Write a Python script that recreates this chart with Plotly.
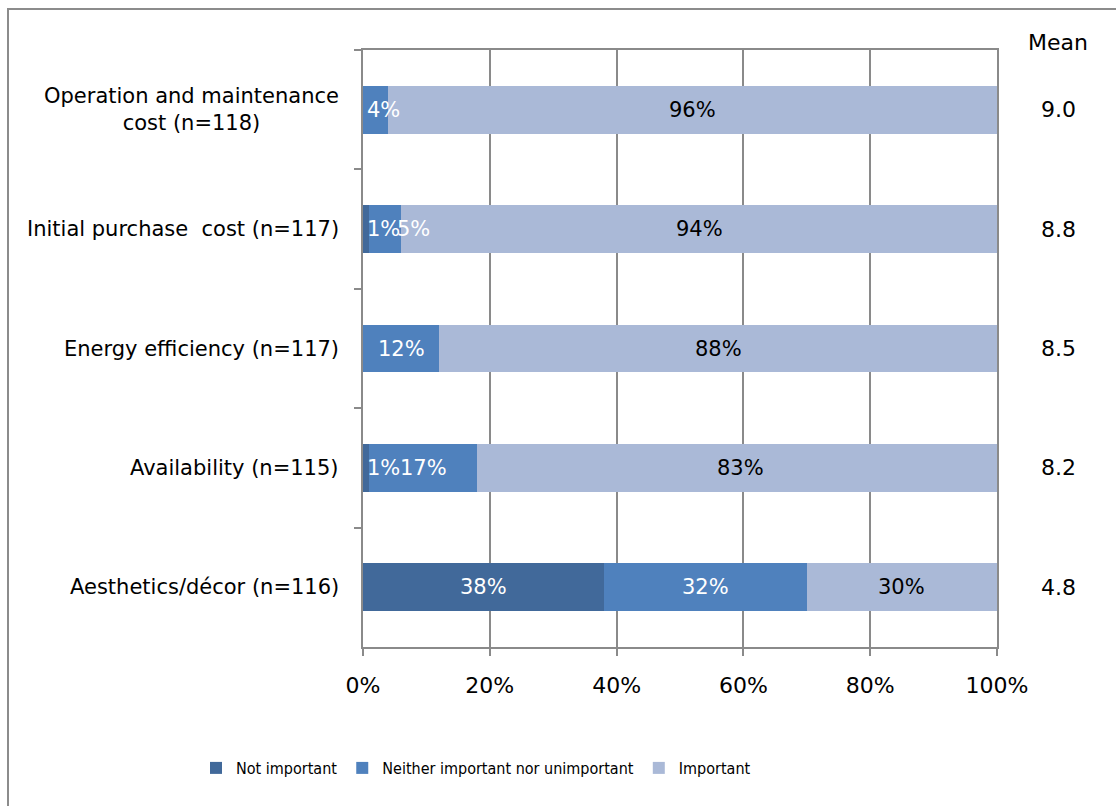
import plotly.graph_objects as go

categories = ["Operation and maintenance<br>cost (n=118)", "Initial purchase  cost (n=117)",
              "Energy efficiency (n=117)", "Availability (n=115)", "Aesthetics/décor (n=116)"]
not_important = [0, 1, 0, 1, 38]
neither = [4, 5, 12, 17, 32]
important = [96, 94, 88, 83, 30]
means = ["9.0", "8.8", "8.5", "8.2", "4.8"]
series_names = ["Not important", "Neither important nor unimportant", "Important"]
colors = ["#41699A", "#4F81BD", "#AAB9D7"]
label_colors = ["white", "white", "black"]
x_ticks = [0, 20, 40, 60, 80, 100]
x_ticktext = [f"{v}%" for v in x_ticks]

W, H = 1116, 806
L, R, T, B = 363, 119, 50, 159
pw = W - L - R
ph = H - T - B
FONT = "DejaVu Sans"
GRID = "#8A8A8A"

fig = go.Figure()
series = [not_important, neither, important]
for name, vals, col in zip(series_names, series, colors):
    fig.add_trace(go.Bar(y=categories, x=vals, name=name, orientation="h",
                         marker=dict(color=col, line=dict(width=0)),
                         hoverinfo="skip"))

annotations = []
lab_size = 21
def text_w(s):
    w = 0
    for ch in s:
        w += 0.95 if ch == "%" else 0.636
    return w * lab_size * 0.9

scale = pw / 100.0
for i, cat in enumerate(categories):
    cum = 0
    prev_right = -1e9
    for k, vals in enumerate(series):
        v = vals[i]
        if v > 0:
            mid = cum + v / 2
            txt = f"{v}%"
            w = text_w(txt)
            mid_px = mid * scale
            left = max(mid_px - w / 2, 6, prev_right)
            center = left + w / 2
            prev_right = left + w
            annotations.append(dict(x=mid, y=cat, xref="x", yref="y", text=txt,
                                    showarrow=False, xshift=center - mid_px,
                                    font=dict(family=FONT, size=lab_size, color=label_colors[k])))
        cum += v
    annotations.append(dict(x=0, y=cat, xref="paper", yref="y", text=cat, showarrow=False,
                            xanchor="right", align="center", xshift=-22,
                            font=dict(family=FONT, size=21, color="black")))
    annotations.append(dict(x=(1058 - L) / pw, y=cat, xref="paper", yref="y", text=means[i],
                            showarrow=False, xanchor="center",
                            font=dict(family=FONT, size=22, color="black")))

annotations.append(dict(x=(1058 - L) / pw, y=1 + (T - 42) / ph, xref="paper", yref="paper",
                        text="Mean", showarrow=False, xanchor="center", yanchor="middle",
                        font=dict(family=FONT, size=22, color="black")))

shapes = [dict(type="rect", xref="paper", yref="paper",
               x0=(8 - L) / pw, x1=(1150 - L) / pw,
               y0=-(H + 40 - T - ph) / ph, y1=1 + (T - 9) / ph,
               line=dict(color="#8C8C8C", width=2), layer="below")]

fig.update_layout(
    width=W, height=H,
    margin=dict(l=L, r=R, t=T, b=B, pad=0, autoexpand=False),
    barmode="stack",
    bargap=0.6,
    plot_bgcolor="white", paper_bgcolor="white",
    font=dict(family=FONT, size=22, color="black"),
    showlegend=True,
    legend=dict(orientation="h", x=(196 - L) / pw, xanchor="left",
                y=-(768 - T - ph) / ph, yanchor="middle",
                font=dict(family="Liberation Sans Narrow, DejaVu Sans Condensed, DejaVu Sans", size=16),
                itemwidth=30, traceorder="normal", bgcolor="rgba(0,0,0,0)"),
    annotations=annotations,
    shapes=shapes,
    xaxis=dict(range=[0, 100], tickvals=x_ticks, ticktext=x_ticktext, showgrid=True,
               gridcolor=GRID, gridwidth=2, showline=True, linecolor=GRID, linewidth=2,
               mirror=True, ticks="outside", ticklen=7, tickcolor=GRID, tickwidth=2,
               zeroline=False, ticklabelstandoff=11, fixedrange=True,
               tickfont=dict(family=FONT, size=22)),
    yaxis=dict(autorange="reversed", type="category", tickson="boundaries",
               showticklabels=False, showgrid=False, showline=True, linecolor=GRID,
               linewidth=2, mirror=True, ticks="outside", ticklen=7, tickcolor=GRID,
               tickwidth=2, zeroline=False, fixedrange=True),
)

fig.write_html("out.html")
